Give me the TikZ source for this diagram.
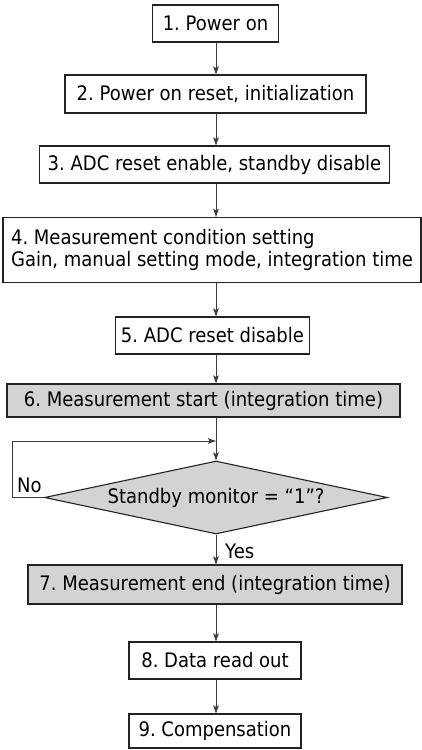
\documentclass[tikz,border=0pt]{standalone}
\usepackage{fontspec}
\setmainfont{DejaVu Sans}[FakeStretch=0.9]
\usetikzlibrary{shapes.geometric,arrows.meta}
\definecolor{boxgray}{RGB}{211,211,211}
\definecolor{linecol}{RGB}{60,60,60}
\definecolor{edgecol}{RGB}{35,35,35}
\frenchspacing
\begin{document}
\begin{tikzpicture}[x=1pt,y=-1pt,
  every node/.style={font=\fontsize{20}{22}\selectfont, text=black},
  stepbox/.style={draw=edgecol, line width=1.1pt, rectangle, inner sep=0pt, align=center},
  graybox/.style={stepbox, fill=boxgray},
  decision/.style={draw=edgecol, line width=1.1pt, fill=boxgray, diamond, aspect=4.7, inner sep=0pt, minimum width=343pt, minimum height=73pt},
  conn/.style={draw=linecol, line width=0.8pt, -{Stealth[length=8pt,width=5.5pt,inset=1.5pt]}},
  lbl/.style={inner sep=0pt}
]
\useasboundingbox (0,0) rectangle (422,750);

\node[stepbox, minimum width=126pt, minimum height=37pt] (b1) at (215.5,23.5) {1. Power on};
\node[stepbox, minimum width=301pt, minimum height=38pt] (b2) at (215.5,94) {2. Power on reset, initialization};
\node[stepbox, minimum width=350pt, minimum height=37pt] (b3) at (214.5,164.5) {3. ADC reset enable, standby disable};
\node[stepbox, minimum width=418pt, minimum height=65pt, align=left] (b4) at (212,250)
  {4. Measurement condition setting\\Gain, manual setting mode, integration time};
\node[stepbox, minimum width=194pt, minimum height=37pt] (b5) at (212.5,335.5) {5. ADC reset disable};
\node[graybox, minimum width=393pt, minimum height=33pt] (b6) at (203.5,400.5) {6. Measurement start (integration time)};
\node[decision] (dia) at (216,497.5) {Standby monitor = “1”?};
\node[graybox, minimum width=374pt, minimum height=39pt] (b7) at (215,584.5) {7. Measurement end (integration time)};
\node[stepbox, minimum width=172pt, minimum height=37pt] (b8) at (215,660.5) {8. Data read out};
\node[stepbox, minimum width=172pt, minimum height=34pt] (b9) at (215,731) {9. Compensation};

\coordinate (join) at (216,441);

\draw[conn] (b1.south -| dia.north) -- (b2.north -| dia.north);
\draw[conn] (b2.south -| dia.north) -- (b3.north -| dia.north);
\draw[conn] (b3.south -| dia.north) -- (b4.north -| dia.north);
\draw[conn] (b4.south -| dia.north) -- (b5.north -| dia.north);
\draw[conn] (b5.south -| dia.north) -- (b6.north -| dia.north);
\draw[conn] (b6.south -| dia.north) -- (dia.north);
\draw[conn] (dia.west) -- ++(-32,0) |- (join);
\draw[conn] (dia.south) -- (b7.north -| dia.south);
\draw[conn] (b7.south -| dia.north) -- (b8.north -| dia.north);
\draw[conn] (b8.south -| dia.north) -- (b9.north -| dia.north);

\node[lbl, anchor=base west] (no) at (17,492) {No};
\node[lbl, anchor=base west] (yes) at (225,558) {Yes};
\end{tikzpicture}
\end{document}
